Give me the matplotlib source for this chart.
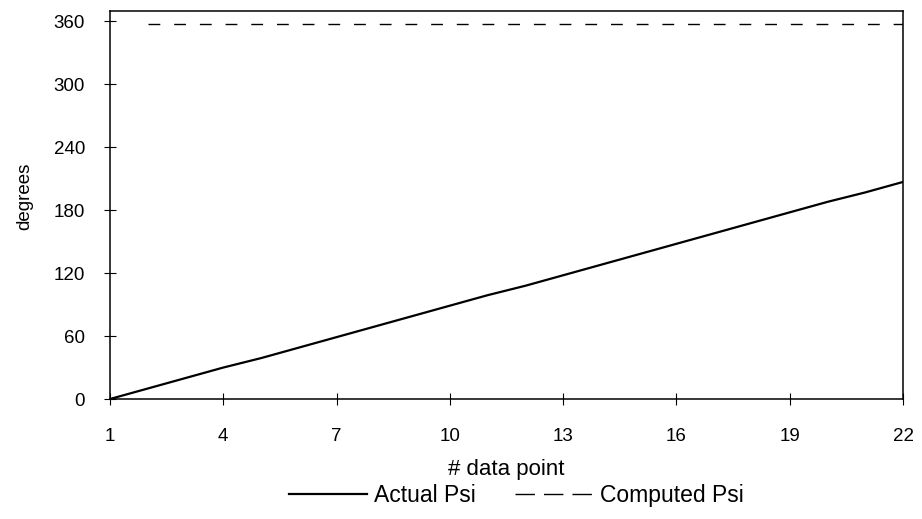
import matplotlib.pyplot as plt
from matplotlib.lines import Line2D

plt.rcParams['font.family'] = ['Liberation Sans', 'DejaVu Sans']

# data
points = list(range(1, 23))
actual_psi = [0, 10, 20, 30, 39, 49, 59, 69, 79, 89, 99,
              108, 118, 128, 138, 148, 158, 168, 178, 188, 197, 207]
computed_x = list(range(2, 23))
computed_psi = [358] * len(computed_x)

y_ticks = [0, 60, 120, 180, 240, 300, 360]
x_ticks = [1, 4, 7, 10, 13, 16, 19, 22]

fig = plt.figure(figsize=(9.22, 5.19), dpi=100)
ax = fig.add_axes([0.1193, 0.2312, 0.8601, 0.7476])

ax.plot(points, actual_psi, color='black', lw=1.6)
ax.plot(computed_x, computed_psi, color='black', lw=1.0,
        linestyle=(0, (8.5, 10)))

ax.set_xlim(1, 22)
ax.set_ylim(0, 370)
ax.set_xticks(x_ticks)
ax.set_yticks(y_ticks)
ax.tick_params(axis='both', direction='inout', length=8, width=0.8,
               labelsize=13.5, color='black')
ax.tick_params(axis='y', pad=14)
ax.tick_params(axis='x', pad=17)
for s in ax.spines.values():
    s.set_linewidth(1.1)

ax.set_xlabel('# data point', fontsize=16, labelpad=10)
ax.set_ylabel('degrees', fontsize=13.5)
ax.yaxis.set_label_coords(-0.097, 0.522)

# legend handles (the scan shows three longer dashes in the key)
handles = [Line2D([], [], color='black', lw=1.6),
           Line2D([], [], color='black', lw=1.0, linestyle=(0, (14, 6.5)))]
fig.legend(handles, ['Actual Psi', 'Computed Psi'], loc='center',
           bbox_to_anchor=(0.56, 0.046), ncol=2, frameon=False,
           fontsize=16.5, handlelength=3.4, columnspacing=1.7, handletextpad=0.3)

fig.savefig('out.png', dpi=100)
